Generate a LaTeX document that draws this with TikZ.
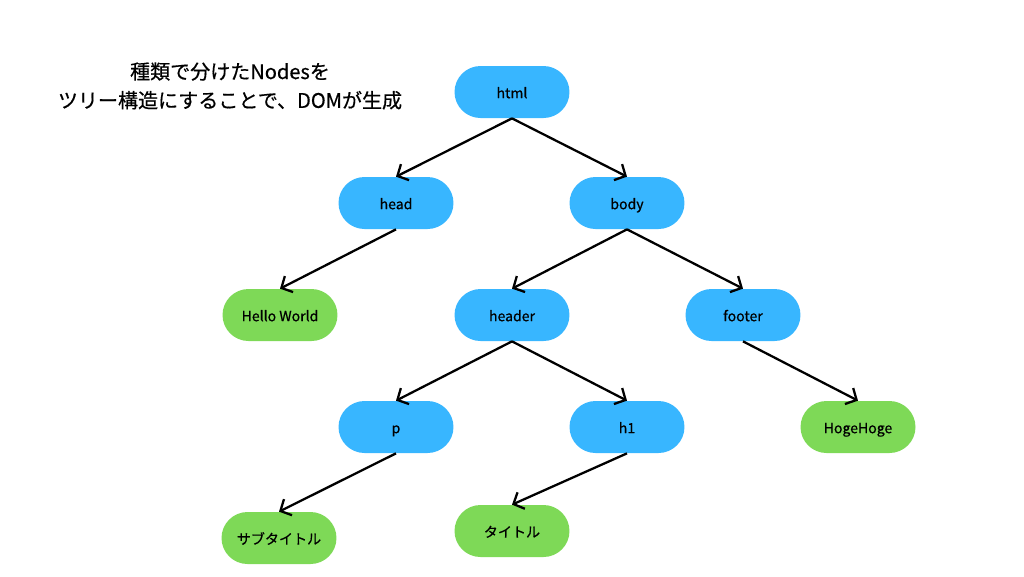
\documentclass[tikz,border=0pt]{standalone}
\usepackage{fontspec}
\setmainfont{Noto Sans CJK JP}[FakeBold=0.5]
\usepackage{xcolor}
\usetikzlibrary{arrows.meta}
\definecolor{domblue}{HTML}{38B6FF}
\definecolor{textgreen}{HTML}{7ED957}

\tikzset{
  elem/.style={fill=domblue, rounded corners=5.2mm, minimum width=2.3cm, minimum height=1.04cm,
    font=\fontsize{8}{10}\selectfont, inner sep=0pt, text height=1.6ex, text depth=0.3ex},
  txt/.style={elem, fill=textgreen},
  link/.style={line width=1.3pt, -{Straight Barb[length=1.7mm,width=3.6mm,line width=1.3pt]}}
}

\begin{document}
\begin{tikzpicture}[x=0.02cm,y=-0.02cm]
\useasboundingbox (0,0) rectangle (1024,576);
\node[align=center, font=\fontsize{11.4}{16.4}\selectfont] (title) at (230,86) {種類で分けたNodesを\\ツリー構造にすることで、DOMが生成};

% elements
\node[elem] (html) at (512,92) {html};
\node[elem] (head) at (396,203) {head};
\node[elem] (body) at (627,203) {body};
\node[elem] (header) at (512,315) {header};
\node[elem] (footer) at (743,315) {footer};
\node[elem] (p) at (396,427) {p};
\node[elem] (h1) at (627,427) {h1};

% text nodes
\node[txt] (hello) at (280,315) {Hello World};
\node[txt] (hoge) at (858,427) {HogeHoge};
\node[txt] (subtitle) at (279,538) {サブタイトル};
\node[txt] (title2) at (512,531) {タイトル};

\draw[link] (html.south) -- (head.north);
\draw[link] (html.south) -- (body.north);
\draw[link] (head.south) -- (hello.north);
\draw[link] (body.south) -- (header.north);
\draw[link] (body.south) -- (footer.north);
\draw[link] (header.south) -- (p.north);
\draw[link] (header.south) -- (h1.north);
\draw[link] (footer.south) -- (hoge.north);
\draw[link] (p.south) -- (subtitle.north);
\draw[link] (h1.south) -- (title2.north);
\end{tikzpicture}
\end{document}
